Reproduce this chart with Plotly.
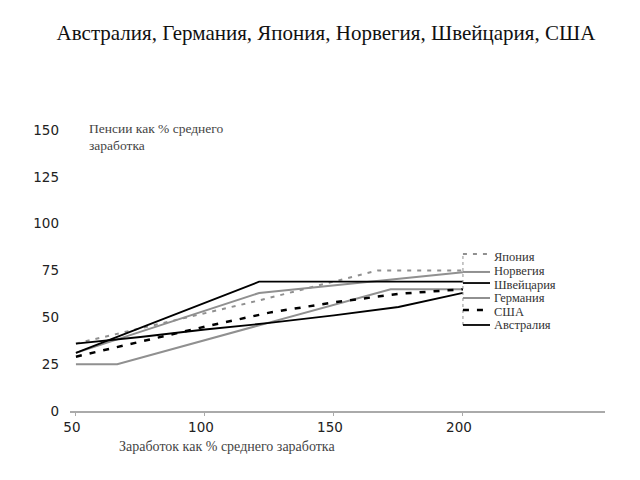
import plotly.graph_objects as go

# ---- data ----
japan_x = [50, 121, 167, 200]
japan_y = [36, 59, 75, 75]

norway_x = [50, 121, 200]
norway_y = [31, 63, 74]

swiss_x = [50, 121, 200]
swiss_y = [31, 69, 69]

germany_x = [50, 66, 172, 200]
germany_y = [25, 25, 65, 65]

usa_x = [50, 75, 100, 125, 150, 175, 200]
usa_y = [29, 37, 45, 52.5, 58, 62.5, 65]

australia_x = [50, 75, 100, 125, 150, 175, 200]
australia_y = [36, 39.5, 43.5, 47, 51, 55.5, 63]

legend_names = ["Япония", "Норвегия", "Швейцария", "Германия", "США", "Австралия"]
x_ticks = [50, 100, 150, 200]
y_ticks = [0, 25, 50, 75, 100, 125, 150]

title = "Австралия, Германия, Япония, Норвегия, Швейцария, США"
y_title_lines = ["Пенсии как % среднего", "заработка"]
x_title = "Заработок как % среднего заработка"

GRAY = "#909090"
BLACK = "#000000"
SERIF = "Liberation Serif, Times New Roman, serif"
SANS = "DejaVu Sans, Arial, sans-serif"

styles = {
    "Япония": dict(color=GRAY, width=2, dash="4px,6px"),
    "Норвегия": dict(color=GRAY, width=2, dash="solid"),
    "Швейцария": dict(color=BLACK, width=1.8, dash="solid"),
    "Германия": dict(color=GRAY, width=2, dash="solid"),
    "США": dict(color=BLACK, width=2.5, dash="6px,8px"),
    "Австралия": dict(color=BLACK, width=1.8, dash="solid"),
}
series = {
    "Япония": (japan_x, japan_y),
    "Норвегия": (norway_x, norway_y),
    "Швейцария": (swiss_x, swiss_y),
    "Германия": (germany_x, germany_y),
    "США": (usa_x, usa_y),
    "Австралия": (australia_x, australia_y),
}

fig = go.Figure()
for name in ["Германия", "Норвегия", "Япония", "Австралия", "США", "Швейцария"]:
    xs, ys = series[name]
    fig.add_trace(go.Scatter(x=xs, y=ys, mode="lines", name=name,
                             line=styles[name], showlegend=False, hoverinfo="skip"))

# page body adds an 8px offset; layout below is in reference-pixel terms minus that offset
OFF = 8
L, R, T, B = 70 - OFF, 35 + OFF, 111 - OFF, 69 + OFF
W, H = 640, 480
pw, ph = W - L - R, H - T - B

def px_to_paper(px, py):
    return (px - OFF - L) / pw, (H - B - (py - OFF)) / ph

# ---- custom legend (leader lines at the right end of the series) ----
leg_line_y = [83.8, 74.2, 68.3, 60.3, 53.9, 45.9]
leg_text_py = [257, 271, 284.5, 298, 311.5, 325]
leg_x0, leg_x1 = 200, 210.5
fig.add_shape(type="line", x0=leg_x0, x1=leg_x0, y0=leg_line_y[-1], y1=leg_line_y[0],
              xref="x", yref="y", line=dict(color=GRAY, width=1, dash="dot"))
for name, yv, tpy in zip(legend_names, leg_line_y, leg_text_py):
    fig.add_shape(type="line", x0=leg_x0, x1=leg_x1, y0=yv, y1=yv, xref="x", yref="y",
                  line=styles[name])
    ax, ay = px_to_paper(492, tpy)
    fig.add_annotation(x=ax, y=ay, xref="paper", yref="paper", text=name, showarrow=False,
                       xanchor="left", yanchor="middle",
                       font=dict(family=SERIF, size=12.5, color="#333333"))

for line, py in zip(y_title_lines, [128, 145]):
    tx, ty = px_to_paper(87, py)
    fig.add_annotation(x=tx, y=ty, xref="paper", yref="paper", text=line, showarrow=False,
                       xanchor="left", yanchor="middle", align="left",
                       font=dict(family=SERIF, size=13.5, color="#444444"))
tx, ty = px_to_paper(227, 446)
fig.add_annotation(x=tx, y=ty, xref="paper", yref="paper", text=x_title, showarrow=False,
                   xanchor="center", yanchor="middle",
                   font=dict(family=SERIF, size=14, color="#444444"))

fig.update_layout(
    width=W, height=H,
    margin=dict(l=L, r=R, t=T, b=B),
    paper_bgcolor="white", plot_bgcolor="white",
    title=dict(text=title, x=(326 - OFF) / W, xanchor="center", y=1 - (33 - OFF) / H,
               yanchor="middle",
               font=dict(family=SERIF, size=21, color="#111111")),
    xaxis=dict(range=[47.7, 255.06], tickvals=x_ticks, showgrid=False, zeroline=False,
               showline=True, linecolor="#aaaaaa", linewidth=2,
               ticks="outside", ticklen=3, tickcolor="#aaaaaa",
               ticklabelshift=-4,
               tickfont=dict(family=SANS, size=13.5, color="#222222")),
    yaxis=dict(range=[0, 160.1], tickvals=y_ticks, showgrid=False, zeroline=False,
               showline=False, ticks="", ticklabelstandoff=10,
               tickfont=dict(family=SANS, size=13.5, color="#222222")),
)

fig.write_html("out.html")
